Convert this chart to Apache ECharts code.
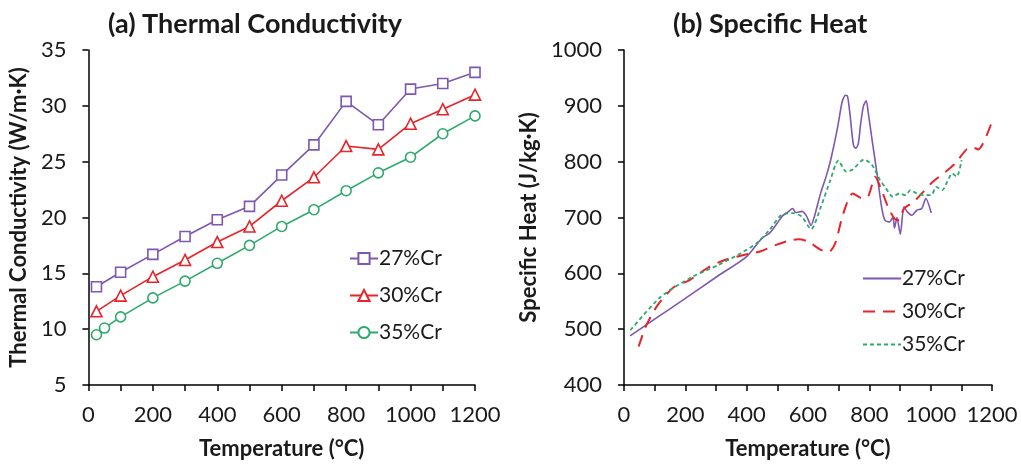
<!DOCTYPE html>
<html><head><meta charset="utf-8">
<script src="https://cdn.jsdelivr.net/npm/echarts@6/dist/echarts.min.js"></script>
<style>
html,body{margin:0;padding:0;background:#fff;}
#wrap{position:relative;width:1021px;height:465px;}
#a{position:absolute;left:0;top:0;width:510px;height:465px;}
#b{position:absolute;left:510px;top:0;width:511px;height:465px;}
</style></head>
<body><div id="wrap"><div id="a"></div><div id="b"></div></div>
<script>
// ---- (a) Thermal Conductivity ----
const seriesNames = ['27%Cr', '30%Cr', '35%Cr'];
const tempA = [25, 100, 200, 300, 400, 500, 600, 700, 800, 900, 1000, 1100, 1200];
const k27 = [13.8, 15.1, 16.7, 18.3, 19.8, 21.0, 23.8, 26.5, 30.4, 28.3, 31.5, 32.0, 33.0];
const k30 = [11.6, 13.0, 14.7, 16.2, 17.8, 19.2, 21.5, 23.6, 26.4, 26.1, 28.4, 29.7, 31.0];
const tempA35 = [25, 50, 100, 200, 300, 400, 500, 600, 700, 800, 900, 1000, 1100, 1200];
const k35 = [9.5, 10.1, 11.1, 12.8, 14.3, 15.9, 17.5, 19.2, 20.7, 22.4, 24.0, 25.4, 27.5, 29.1];

// ---- (b) Specific Heat ----
const t27 = [20, 100, 200, 300, 400, 450, 475, 500, 517, 535, 550, 560, 580, 595, 610, 620, 642, 660, 674, 695, 710, 715, 722, 729, 737, 748, 756, 764, 772, 781, 790, 796, 809, 825, 840, 851, 866, 877, 882, 890, 901, 913, 924, 939, 955, 971, 984, 1002];
const cp27 = [488, 518, 555, 593, 630, 663, 672, 690, 703, 710, 716, 709, 711, 703, 686, 700, 745, 775, 803, 857, 904, 913, 919, 917, 885, 830, 824, 832, 869, 900, 909, 890, 839, 779, 719, 695, 692, 701, 681, 700, 670, 719, 710, 704, 713, 716, 734, 708];
const t30 = [48, 73, 110, 162, 214, 277, 329, 391, 444, 496, 540, 569, 600, 642, 668, 689, 715, 746, 778, 798, 819, 840, 861, 882, 897, 913, 945, 976, 1007, 1049, 1080, 1117, 1135, 1155, 1200];
const cp30 = [469, 507, 543, 575, 588, 611, 624, 633, 639, 651, 659, 661, 657, 642, 638, 654, 707, 743, 734, 740, 773, 749, 719, 698, 695, 716, 728, 746, 764, 782, 797, 822, 826, 822, 872];
const t35 = [21, 120, 224, 308, 381, 433, 475, 512, 548, 579, 610, 642, 673, 699, 725, 746, 783, 809, 835, 851, 877, 897, 918, 934, 955, 976, 1002, 1018, 1038, 1054, 1070, 1085, 1101];
const cp35 = [498, 558, 594, 615, 636, 654, 678, 704, 708, 702, 679, 719, 767, 802, 782, 786, 804, 794, 767, 755, 737, 743, 740, 749, 743, 740, 740, 755, 749, 764, 779, 773, 803];

const xTickLabels = [0, 200, 400, 600, 800, 1000, 1200];

const colors = ['#7E57B0', '#E8232A', '#2EAA6E'];
const FONT = 'Lato';
const txt = '#1a1a1a';

function zip(xs, ys) { return xs.map((x, i) => [x, ys[i]]); }

function xAxisCfg() {
  return {
    type: 'value', min: 0, max: 1200, interval: 100,
    name: 'Temperature (°C)', nameLocation: 'middle', nameGap: 53,
    nameTextStyle: { fontFamily: FONT, fontWeight: 'bold', fontSize: 22, color: txt },
    axisLine: { show: true, lineStyle: { color: '#000', width: 1.5 } },
    axisTick: { show: true, length: 6, lineStyle: { color: '#000', width: 1.5 } },
    axisLabel: { fontFamily: FONT, fontSize: 22, color: txt, margin: 19,
      formatter: v => (xTickLabels.indexOf(v) >= 0 ? String(v) : '') },
    splitLine: { show: false }
  };
}
function yAxisCfg(name, min, max, interval, gap) {
  return {
    type: 'value', min: min, max: max, interval: interval,
    name: name, nameLocation: 'middle', nameGap: gap, nameRotate: 90,
    nameTextStyle: { fontFamily: FONT, fontWeight: 'bold', fontSize: 22, color: txt },
    axisLine: { show: true, lineStyle: { color: '#000', width: 1.5 } },
    axisTick: { show: true, length: 6, lineStyle: { color: '#000', width: 1.5 } },
    axisLabel: { fontFamily: FONT, fontSize: 22, color: txt, margin: 22,
      formatter: v => String(v) },
    splitLine: { show: false }
  };
}

const chartA = echarts.init(document.getElementById('a'), null, { renderer: 'canvas' });
const symbols = ['rect', 'triangle', 'circle'];
const dataA = [zip(tempA, k27), zip(tempA, k30), zip(tempA35, k35)];
chartA.setOption({
  animation: false,
  title: { text: '(a) Thermal Conductivity', left: 103, top: 6,
    textStyle: { fontFamily: FONT, fontWeight: 'bold', fontSize: 27, color: txt } },
  grid: { left: 88, top: 50, width: 387, height: 335, containLabel: false },
  xAxis: xAxisCfg(),
  yAxis: yAxisCfg('Thermal Conductivity (W/m·K)', 5, 35, 5, 47),
  legend: {
    orient: 'vertical', left: 344, top: 243, itemGap: 16, itemWidth: 28, itemHeight: 14,
    textStyle: { fontFamily: FONT, fontSize: 21, color: txt, padding: [0, 0, 0, -4] },
    data: seriesNames
  },
  series: seriesNames.map((n, i) => ({
    name: n, type: 'line', data: dataA[i],
    symbol: symbols[i], symbolSize: i === 1 ? 11 : 10,
    showAllSymbol: true,
    lineStyle: { color: colors[i], width: 1.6 },
    itemStyle: { color: '#fff', borderColor: colors[i], borderWidth: 1.6 }
  }))
});

const chartB = echarts.init(document.getElementById('b'), null, { renderer: 'canvas' });
const dataB = [zip(t27, cp27), zip(t30, cp30), zip(t35, cp35)];
const dashes = ['solid', [12, 8], [4, 3]];
const widths = [1.6, 2, 1.8];
chartB.setOption({
  animation: false,
  title: { text: '(b) Specific Heat', left: 158, top: 6,
    textStyle: { fontFamily: FONT, fontWeight: 'bold', fontSize: 27, color: txt } },
  grid: { left: 98, top: 50, width: 384, height: 335, containLabel: false },
  xAxis: xAxisCfg(),
  yAxis: yAxisCfg('Specific Heat (J/kg·K)', 400, 1000, 100, 60),
  legend: {
    orient: 'vertical', left: 347, top: 263, itemGap: 12, itemWidth: 38, itemHeight: 21,
    itemStyle: { opacity: 0 },
    textStyle: { fontFamily: FONT, fontSize: 21, color: txt, padding: [0, 0, 0, -4] },
    data: seriesNames
  },
  series: seriesNames.map((n, i) => ({
    name: n, type: 'line', data: dataB[i], smooth: 0.25,
    symbol: 'none', showSymbol: false,
    lineStyle: { color: colors[i], width: widths[i], type: dashes[i] },
    itemStyle: { color: colors[i] }
  }))
});
</script></body></html>
